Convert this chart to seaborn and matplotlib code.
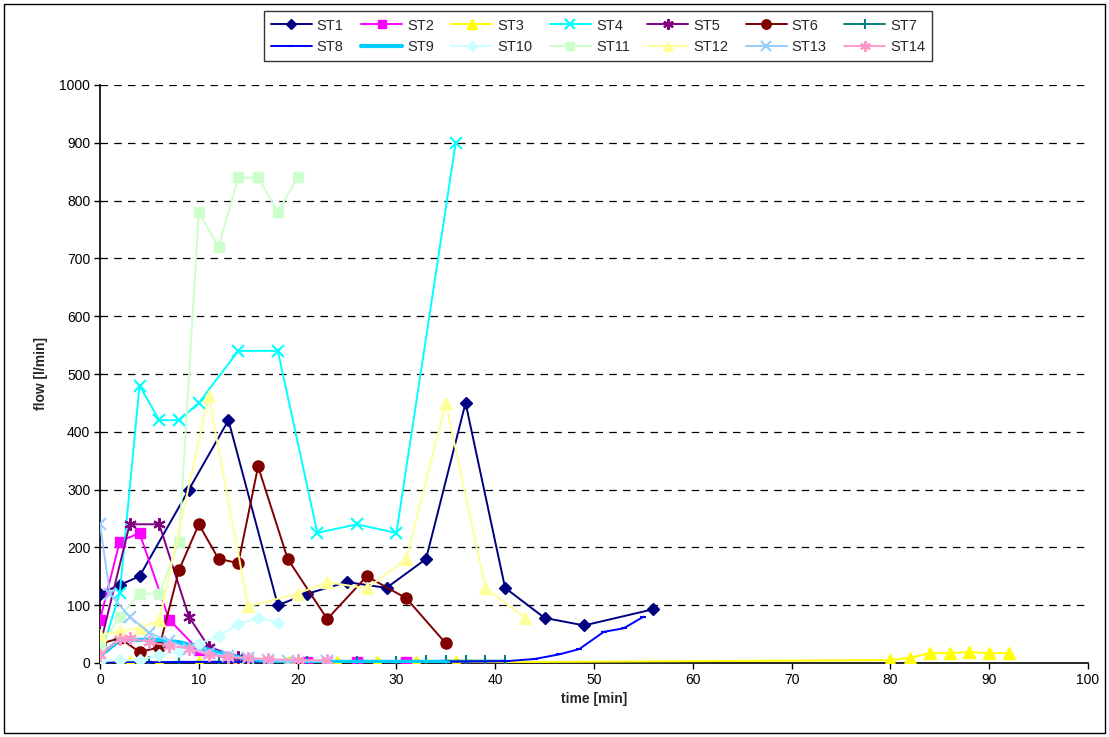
import matplotlib
matplotlib.use("Agg")
import matplotlib.pyplot as plt
import seaborn as sns
import pandas as pd
from matplotlib.patches import Rectangle

# ---- data ----
st1_x = [0, 2, 4, 9, 13, 18, 21, 25, 29, 33, 37, 41, 45, 49, 56]
st1_y = [120, 135, 150, 300, 420, 100, 120, 140, 130, 180, 450, 130, 78, 65, 93]
st2_x = [0, 2, 4, 7, 10, 14, 21, 26, 31]
st2_y = [75, 210, 225, 75, 22, 3, 2, 2, 2]
st3_x = [0, 3, 6, 10, 14, 19, 24, 28, 32, 36, 80, 82, 84, 86, 88, 90, 92]
st3_y = [0, 1, 1, 1, 1, 1, 1, 1, 1, 1, 5, 9, 17, 17, 19, 17, 17]
st4_x = [0, 2, 4, 6, 8, 10, 14, 18, 22, 26, 30, 36]
st4_y = [10, 121, 480, 420, 420, 450, 540, 540, 225, 240, 225, 900]
st5_x = [0, 3, 6, 9, 11, 14]
st5_y = [30, 240, 240, 80, 28, 10]
st6_x = [0, 2, 4, 6, 8, 10, 12, 14, 16, 19, 23, 27, 31, 35]
st6_y = [33, 43, 19, 27, 161, 240, 180, 173, 340, 180, 76, 150, 112, 34]
st7_x = [0, 5, 8, 12, 17, 21, 26, 30, 33, 35, 37, 39, 41]
st7_y = [1, 1, 2, 2, 2, 2, 2, 2, 3, 4, 4, 4, 4]
st8_x = [0, 5, 10, 15, 20, 25, 30, 35, 41, 44, 46.5, 48.5, 51, 53, 55]
st8_y = [1, 1, 2, 2, 2, 2, 2, 2, 3, 7, 15, 24, 54, 60, 80]
st9_x = [0, 2, 4, 6, 8, 10, 12, 14, 16, 18, 22, 26, 30, 35]
st9_y = [12, 40, 40, 40, 36, 28, 18, 10, 5, 3, 2, 2, 2, 2]
st10_x = [0, 2, 4, 6, 8, 10, 12, 14, 16, 18]
st10_y = [3, 5, 5, 14, 20, 33, 47, 67, 78, 70]
st11_x = [0, 2, 4, 6, 8, 10, 12, 14, 16, 18, 20]
st11_y = [28, 80, 120, 120, 210, 780, 720, 840, 840, 780, 840]
st12_x = [0, 2, 4, 6, 11, 15, 20, 23, 27, 31, 35, 39, 43]
st12_y = [48, 55, 60, 74, 462, 98, 120, 140, 129, 180, 450, 130, 78]
st13_x = [0, 1, 3, 5, 7, 9, 11, 13, 15, 17, 19, 23]
st13_y = [240, 120, 80, 52, 38, 25, 18, 12, 8, 5, 3, 3]
st14_x = [0, 2, 3, 5, 7, 9, 11, 13, 15, 17, 20, 23]
st14_y = [14, 41, 43, 36, 30, 25, 14, 10, 8, 7, 5, 5]

names = [f"ST{i}" for i in range(1, 15)]
xs = [st1_x, st2_x, st3_x, st4_x, st5_x, st6_x, st7_x, st8_x, st9_x, st10_x,
      st11_x, st12_x, st13_x, st14_x]
ys = [st1_y, st2_y, st3_y, st4_y, st5_y, st6_y, st7_y, st8_y, st9_y, st10_y,
      st11_y, st12_y, st13_y, st14_y]

colors = ["#000080", "#FF00FF", "#FFFF00", "#00FFFF", "#800080", "#800000", "#008080",
          "#0000FF", "#00CCFF", "#CCFFFF", "#CCFFCC", "#FFFF99", "#99CCFF", "#FF99CC"]
star = (6, 2, 0)
markers = ["D", "s", "^", "x", star, "o", "+", "_", "_", "D", "s", "^", "x", star]
msizes = [6, 7, 8, 8, 9, 8, 8, 5, 6, 6, 7, 8, 8, 9]
lwidths = [1.4, 1.4, 1.4, 1.4, 1.4, 1.4, 1.4, 1.4, 3.0, 1.4, 1.4, 1.4, 1.4, 1.4]

sns.set_theme(style="white")
plt.rcParams["font.family"] = ["Liberation Sans", "DejaVu Sans"]

fig = plt.figure(figsize=(11.09, 7.37), dpi=100)
ax = fig.add_axes([100 / 1109, 1 - 663 / 737, (1088 - 100) / 1109, (663 - 85) / 737])

for name, x, y, c, m, ms, lw in zip(names, xs, ys, colors, markers, msizes, lwidths):
    df = pd.DataFrame({"time": x, "flow": y})
    mew = 1.5 if m in ("x", "+", "_", star) else 1.0
    sns.lineplot(data=df, x="time", y="flow", ax=ax, color=c, marker=m,
                 markersize=ms, markeredgecolor=c, markerfacecolor=c,
                 markeredgewidth=mew, linewidth=lw, label=name, sort=False,
                 estimator=None, zorder=3)

ax.set_xlim(0, 100)
ax.set_ylim(0, 1000)
ax.set_xticks(range(0, 101, 10))
ax.set_yticks(range(0, 1001, 100))
ax.tick_params(axis="both", labelsize=10, direction="out", length=4, width=1,
               colors="black", bottom=True, left=True, pad=3)
for yv in range(100, 1001, 100):
    ax.axhline(yv, color="black", linestyle=(0, (6, 5)), linewidth=0.9, zorder=1)
ax.set_xlabel("time [min]", fontsize=10, fontweight="bold", labelpad=4)
ax.set_ylabel("flow [l/min]", fontsize=10, fontweight="bold", labelpad=8)
for s in ["top", "right"]:
    ax.spines[s].set_visible(False)
for s in ["left", "bottom"]:
    ax.spines[s].set_color("black")
    ax.spines[s].set_linewidth(1.2)
ax.set_facecolor("white")

handles, labels = ax.get_legend_handles_labels()
if ax.legend_:
    ax.legend_.remove()
# reorder so that legend fills row by row (7 per row)
ncol = 7
order = []
for c in range(ncol):
    for r in range(2):
        order.append(r * ncol + c)
handles = [handles[i] for i in order]
labels = [labels[i] for i in order]
leg = fig.legend(handles, labels, ncol=ncol, loc="upper center",
                 bbox_to_anchor=(598 / 1109, 1 - 4 / 737), fontsize=10.5,
                 frameon=True, fancybox=False, edgecolor="black",
                 handlelength=2.8, columnspacing=1.2, handletextpad=0.35,
                 borderpad=0.5, labelspacing=0.5, markerscale=0.85)
leg.get_frame().set_linewidth(1.0)

fig.patches.append(Rectangle((4 / 1109, 0.005), 1 - 8 / 1109, 0.99, transform=fig.transFigure,
                             fill=False, edgecolor="black", linewidth=1.0))

fig.savefig("out.png", dpi=100)
